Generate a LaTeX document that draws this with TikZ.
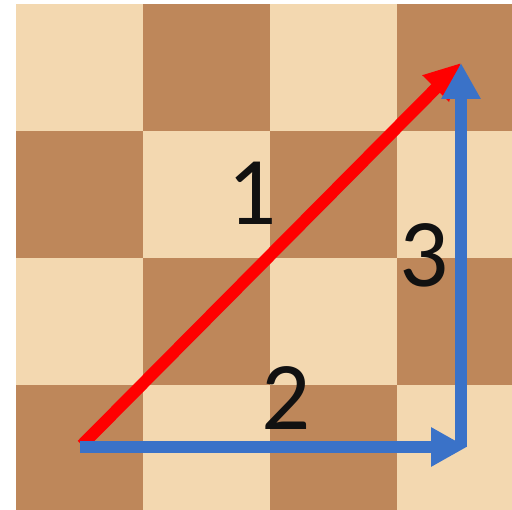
\documentclass[tikz,border=0pt]{standalone}
\usepackage{fontspec}
\setmainfont{Carlito}
\usetikzlibrary{arrows.meta}
\definecolor{lightsq}{RGB}{243,216,176}
\definecolor{darksq}{RGB}{190,135,90}
\definecolor{arrowblue}{RGB}{58,114,200}
\definecolor{arrowred}{RGB}{255,0,0}
\definecolor{labelink}{RGB}{17,17,17}
\begin{document}
\begin{tikzpicture}[x=1pt,y=1pt,
  redarrow/.style={draw=arrowred,line width=12pt,-{Triangle[length=36pt,width=35pt]}},
  bluearrow/.style={draw=arrowblue,line width=12pt,-{Triangle[length=36pt,width=37pt]}},
  numlabel/.style={text=labelink,font=\fontsize{97}{97}\selectfont,inner sep=0pt}]
\useasboundingbox (0,0) rectangle (512,-510);
\fill[white] (0,0) rectangle (512,-510);
\begin{scope}
\clip (0,0) rectangle (512,-510);
\foreach \i in {0,...,3}{
  \foreach \j in {0,...,3}{
    \pgfmathtruncatemacro{\sqpar}{mod(\i+\j,2)}
    \ifnum\sqpar=0
      \fill[lightsq] (16+127*\i,-4-127*\j) rectangle (16+127*\i+127,-4-127*\j-127);
    \else
      \fill[darksq] (16+127*\i,-4-127*\j) rectangle (16+127*\i+127,-4-127*\j-127);
    \fi
  }
}
\end{scope}
\coordinate (redstart) at (82,-445);
\coordinate (top) at (461,-63);
\coordinate (hstart) at (80,-447);
\coordinate (corner) at (467,-447);
\coordinate (vstart) at (461,-447);
\draw[redarrow] (redstart) -- (top);
\draw[bluearrow] (hstart) -- (corner);
\draw[bluearrow] (vstart) -- (top);
\node[numlabel] (one) at (252,-193) {1};
\node[numlabel] (two) at (286,-398) {2};
\node[numlabel] (three) at (424,-255) {3};
\end{tikzpicture}
\end{document}
